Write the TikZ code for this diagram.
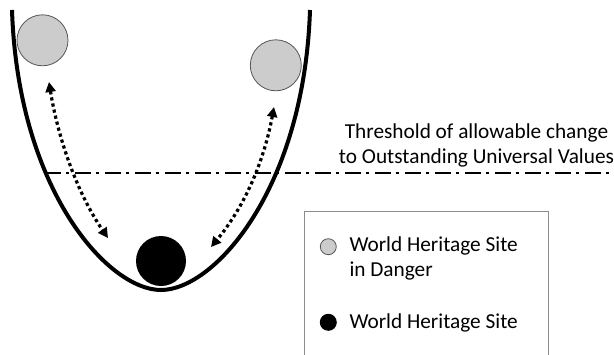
\documentclass[tikz,border=0pt]{standalone}
\usepackage{fontspec}
\setmainfont{Carlito}
\usetikzlibrary{arrows.meta}
\definecolor{sitegray}{HTML}{CCCCCC}
\definecolor{rimgray}{HTML}{555555}
\definecolor{boxgray}{HTML}{8C8C8C}
\tikzset{
  danger/.style={circle, draw=rimgray, fill=sitegray, line width=0.8pt, inner sep=0pt},
  listed/.style={circle, fill=black, inner sep=0pt},
  drift/.style={line width=3.2pt, dash pattern=on 3.2pt off 3pt,
    {Triangle[length=10pt,width=10pt]}-{Triangle[length=10pt,width=10pt]}},
  limit/.style={line width=2.8pt, dash pattern=on 16pt off 5pt on 3pt off 6pt},
  lbl/.style={font=\fontsize{21.3}{25}\selectfont, inner sep=0pt}
}
\begin{document}
\begin{tikzpicture}[x=1pt, y=-1pt]
  \useasboundingbox (0,0) rectangle (614,354);
  % valley
  \draw[line width=4pt] (12,10) .. controls (18,190) and (108,290) .. (161,290)
    .. controls (214,290) and (304,190) .. (310,10);
  % sites
  \node[danger, minimum size=51pt] (dL) at (42.5,40.3) {};
  \node[danger, minimum size=51pt] (dR) at (275.8,65.3) {};
  \node[listed, minimum size=50pt] (whs) at (161,261) {};
  % threshold
  \coordinate (tA) at (45,173);
  \coordinate (tB) at (610,173);
  \draw[limit] (tA) -- (tB);
  \node[lbl, align=center, anchor=base] (thr) at (476.5,163.3)
    {Threshold of allowable change\\to Outstanding Universal Values};
  % transitions
  \coordinate (aL1) at (49,82);
  \coordinate (aL2) at (108,238);
  \coordinate (aR1) at (274,107);
  \coordinate (aR2) at (211,247);
  \draw[drift] (aL1) .. controls (58,138) and (77,193) .. (aL2);
  \draw[drift] (aR1) .. controls (264,161) and (245,206) .. (aR2);
  % legend
  \draw[boxgray, line width=1pt] (304,211) rectangle (548,370);
  \node[danger, minimum size=16pt] (kD) at (328.3,246.7) {};
  \node[listed, minimum size=17pt] (kW) at (328.3,322.3) {};
  \node[lbl, align=left, anchor=base west] (kDt) at (349.3,276.7)
    {World Heritage Site\\in Danger};
  \node[lbl, anchor=base west] (kWt) at (349.3,328.3) {World Heritage Site};
\end{tikzpicture}
\end{document}
